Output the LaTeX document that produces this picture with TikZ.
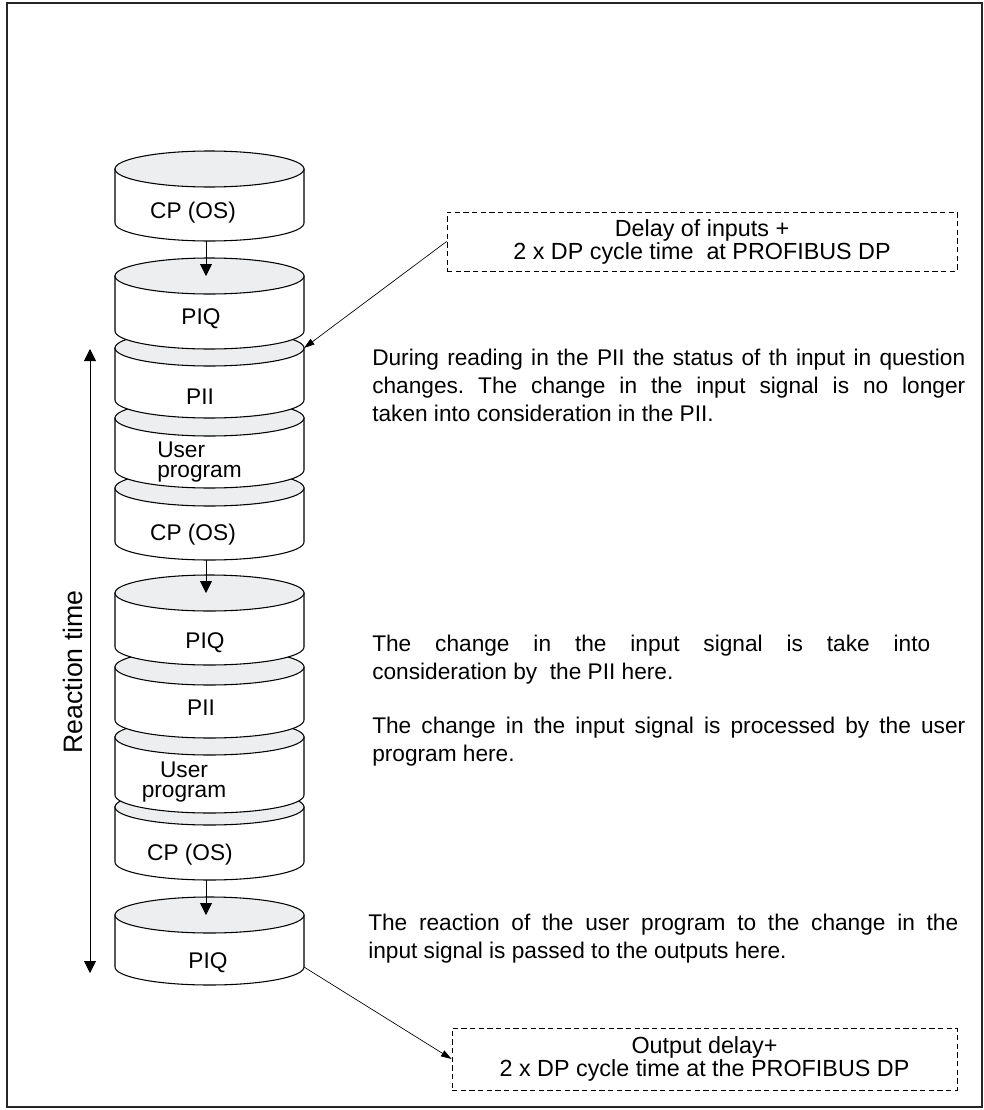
\documentclass[tikz,border=0pt]{standalone}
\usepackage{fontspec}
\setmainfont{Liberation Sans}
\usetikzlibrary{arrows.meta}
\frenchspacing
\definecolor{topgray}{HTML}{EDEEF0}
\newcommand{\diagfont}{\fontsize{17}{21}\selectfont}
\newcommand{\boxfont}{\fontsize{17.5}{17.25}\selectfont}
\newcommand{\userfont}{\fontsize{17}{15}\selectfont}
\tikzset{
  cylbody/.style={fill=white, draw=black, line width=0.8pt},
  cyltop/.style={fill=topgray, draw=black, line width=0.8pt},
  flowarrow/.style={-{Triangle[length=9pt,width=9pt]}, line width=0.6pt},
  bothway/.style={{Triangle[length=9pt,width=9pt]}-{Triangle[length=9pt,width=9pt]}, line width=0.6pt},
  leader/.style={-{Triangle[length=8pt,width=5pt]}, line width=0.5pt},
  notebox/.style={draw, dash pattern=on 4pt off 2.5pt, line width=0.6pt, align=center, inner sep=0pt, font=\boxfont},
  sidetext/.style={anchor=base west, align=justify, inner sep=0pt, font=\diagfont},
  cyllabel/.style={inner sep=0pt, font=\diagfont}
}
% cylinder: name, y of top ellipse, y where the sides end
\newcommand{\drawcyl}[3]{%
  \coordinate (#1-top) at (206,#2);
  \coordinate (#1-bot) at (206,#3+18);
  \coordinate (#1-ne) at (304,#2);
  \coordinate (#1-se) at (304,#3);
  \draw[cylbody] (115,#2) -- (115,#3) arc[start angle=180, end angle=0, x radius=94.5, y radius=18] -- (304,#2) -- cycle;
  \draw[cyltop] (209.5,#2) ellipse[x radius=94.5, y radius=18];
}

\begin{document}
\begin{tikzpicture}[x=0.75pt, y=-0.75pt]
    \useasboundingbox (0,0) rectangle (984,1110);
    % Frame
    \draw[line width=0.8pt, black!85] (7,3) rectangle (982,1107);

    % Cycle stack (drawn from the bottom up)
    \drawcyl{piq3}{915}{967}
    \drawcyl{cp3}{807}{862}
    \drawcyl{user2}{737}{795}
    \drawcyl{pii2}{667}{720}
    \drawcyl{piq2}{593}{647}
    \drawcyl{cp2}{488}{542}
    \drawcyl{user1}{418}{470}
    \drawcyl{pii1}{348}{400}
    \drawcyl{piq1}{276}{331}
    \drawcyl{cp1}{169}{223}

    % Labels
    \node[cyllabel] (cp1-lab) at (193,213) {CP (OS)};
    \node[cyllabel] (piq1-lab) at (201,319) {PIQ};
    \node[cyllabel] (pii1-lab) at (200,397) {PII};
    \node[cyllabel, anchor=west, align=left, font=\userfont] (user1-lab) at (157,462) {User\\program};
    \node[cyllabel] (cp2-lab) at (193,535) {CP (OS)};
    \node[cyllabel] (piq2-lab) at (205,643) {PIQ};
    \node[cyllabel] (pii2-lab) at (201,708) {PII};
    \node[cyllabel, align=center, font=\userfont] (user2-lab) at (184,782) {User\\program};
    \node[cyllabel] (cp3-lab) at (190,855) {CP (OS)};
    \node[cyllabel] (piq3-lab) at (208,963) {PIQ};

    % Transfers
    \draw[flowarrow] (cp1-bot) -- (piq1-top);
    \draw[flowarrow] (cp2-bot) -- (piq2-top);
    \draw[flowarrow] (cp3-bot) -- (piq3-top);

    % Reaction time
    \coordinate (rt-top) at (90,349);
    \coordinate (rt-bot) at (90,973);
    \draw[bothway] (rt-bot) -- (rt-top);
    \node[rotate=90, font=\fontsize{20}{22}\selectfont] (rt-lab) at (73,672) {Reaction time};

    % Delay boxes
    \node[notebox, minimum width=382.5pt, minimum height=44.25pt] (indelay) at (702,241.5)
        {Delay of inputs +\\2 x DP cycle time\ \ at PROFIBUS DP};
    \node[notebox, minimum width=378.75pt, minimum height=46.5pt] (outdelay) at (704.5,1059)
        {Output delay+\\2 x DP cycle time at the PROFIBUS DP};
    \draw[leader] (indelay.west) -- (pii1-ne);
    \draw[leader] (piq3-se) -- (outdelay.west);

    % Notes
    \node[sidetext, text width=444.75pt] (note1) at (372,365)
        {During reading in the PII the status of th input in question\linebreak changes. The change in the input signal is no longer\linebreak taken into consideration in the PII.};
    \node[sidetext, text width=418.5pt] (note2) at (372,651)
        {The change in the input signal is take into\linebreak consideration by\ \ the PII here.};
    \node[sidetext, text width=444.75pt] (note3) at (372,733)
        {The change in the input signal is processed by the user\linebreak program here.};
    \node[sidetext, text width=442.5pt] (note4) at (368,930)
        {The reaction of the user program to the change in the\linebreak input signal is passed to the outputs here.};
\end{tikzpicture}
\end{document}
